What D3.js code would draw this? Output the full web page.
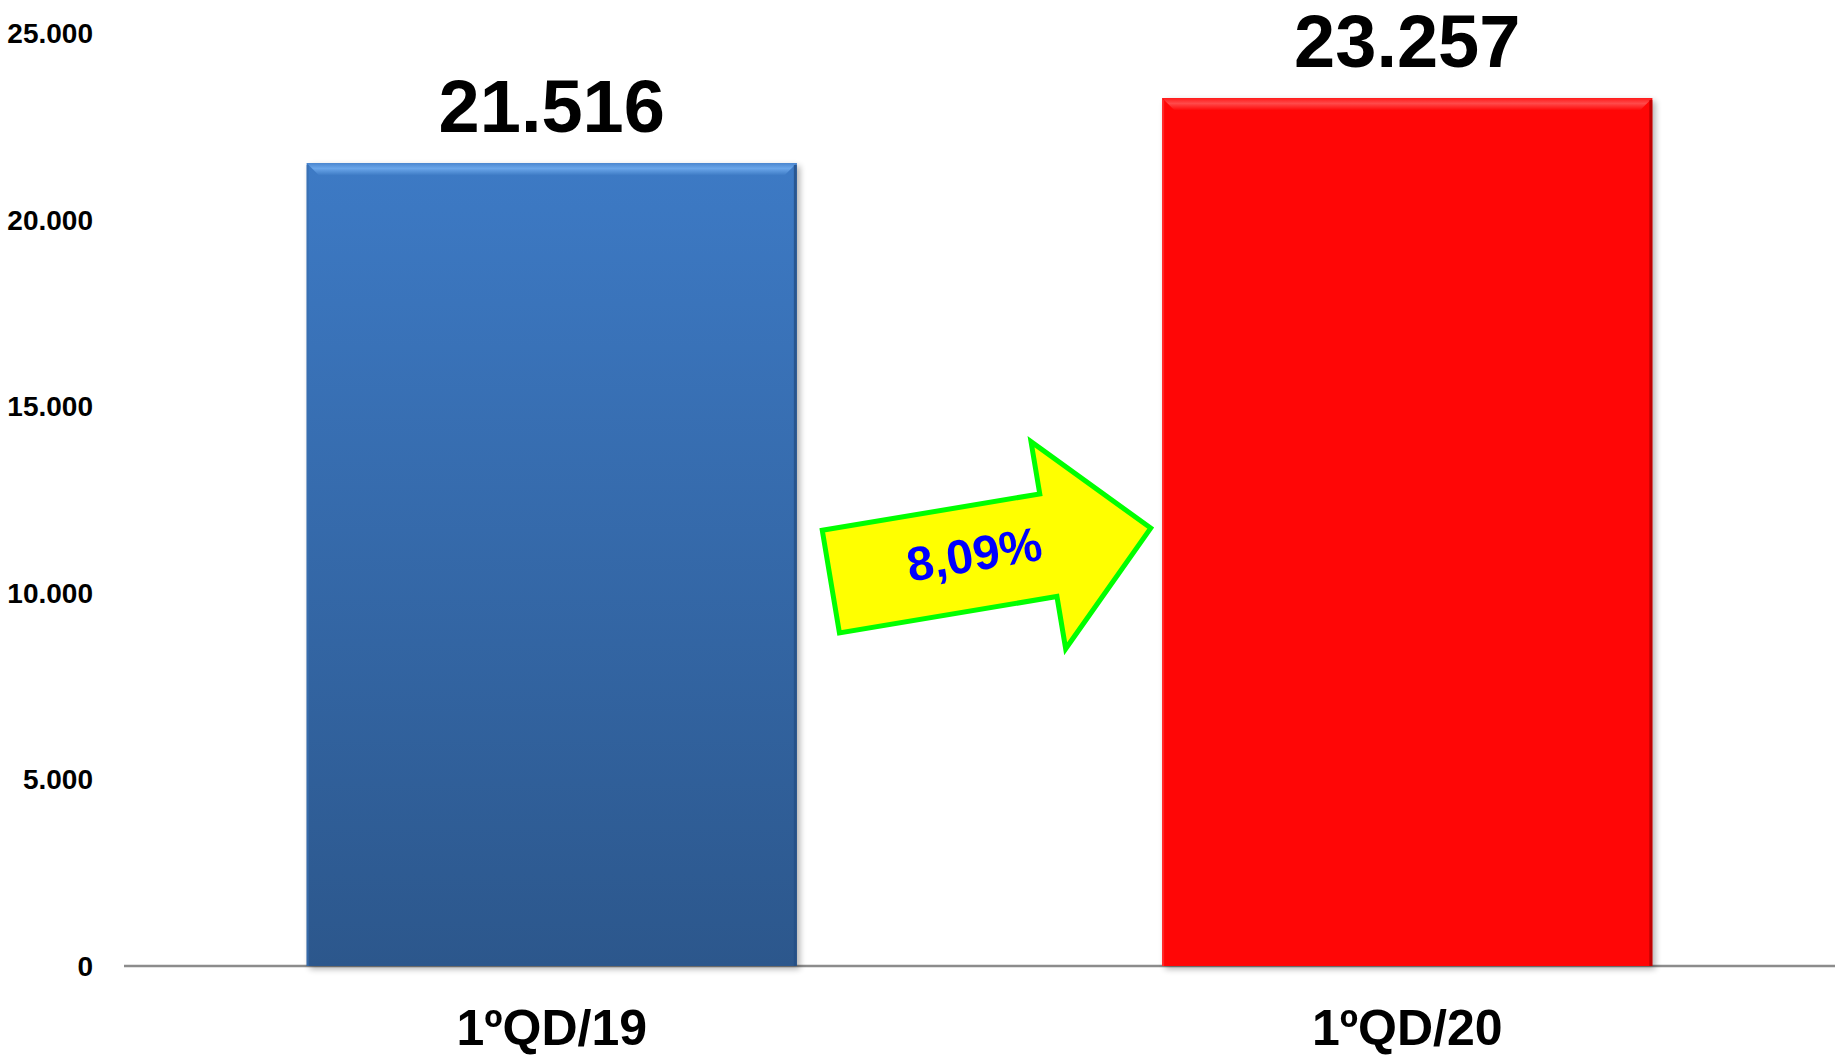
<!DOCTYPE html>
<html>
<head>
<meta charset="utf-8">
<script src="https://cdn.jsdelivr.net/npm/d3@7"></script>
<style>
  html, body { margin: 0; padding: 0; background: #ffffff; }
  svg { display: block; }
  text { font-family: "Liberation Sans", Arial, sans-serif; font-weight: bold; }
</style>
</head>
<body>
<svg id="chart" width="1841" height="1058"></svg>
<script>
// ---- data ----
const categories = ["1ºQD/19", "1ºQD/20"];
const values = [21516, 23257];
const barColors = ["blue", "red"];
const yTicks = [0, 5000, 10000, 15000, 20000, 25000];
const changeLabel = "8,09%";
const arrowAnchorValue = 10300;   // vertical level of the arrow (data units)

// ---- setup ----
const svg = d3.select("#chart");
const locale = d3.formatLocale({ decimal: ",", thousands: ".", grouping: [3], currency: ["", ""] });
const fmt = locale.format(",d");

const y = d3.scaleLinear().domain([0, 25000]).range([966, 33]);
const x = d3.scaleBand().domain(categories).range([124, 1835])
  .paddingInner(0.427).paddingOuter(0.2135);

const defs = svg.append("defs");
const blueGrad = defs.append("linearGradient").attr("id", "g-blue")
  .attr("x1", 0).attr("y1", 0).attr("x2", 0).attr("y2", 1);
blueGrad.append("stop").attr("offset", "0%").attr("stop-color", "#3d7ac5");
blueGrad.append("stop").attr("offset", "100%").attr("stop-color", "#2c578c");
const barFill = { blue: "url(#g-blue)", red: "#ff0606" };

const topGrad = {
  blue: [["0%", "#4a86cf"], ["45%", "#6aa6ea"], ["100%", "#3f7cc6"]],
  red: [["0%", "#ff1a1a"], ["45%", "#ff4a4a"], ["100%", "#ff0a0a"]]
};
Object.entries(topGrad).forEach(([k, stops]) => {
  const g = defs.append("linearGradient").attr("id", "t-" + k)
    .attr("x1", 0).attr("y1", 0).attr("x2", 0).attr("y2", 1);
  stops.forEach(s => g.append("stop").attr("offset", s[0]).attr("stop-color", s[1]));
});
defs.append("filter").attr("id", "blur")
  .attr("x", "-10%").attr("y", "-10%").attr("width", "120%").attr("height", "120%")
  .append("feGaussianBlur").attr("stdDeviation", 3);

// ---- y tick labels ----
svg.append("g").selectAll("text").data(yTicks).join("text")
  .attr("x", 93).attr("y", d => y(d)).attr("dy", "0.36em")
  .attr("text-anchor", "end").attr("font-size", 28).attr("fill", "#000")
  .text(d => fmt(d));

// ---- baseline axis ----
svg.append("line")
  .attr("x1", x.range()[0]).attr("x2", x.range()[1])
  .attr("y1", y(0)).attr("y2", y(0))
  .attr("stroke", "#8c8c8c").attr("stroke-width", 2.5);

// ---- bars ----
const bars = svg.append("g").selectAll("g").data(categories).join("g");
// soft shadow behind bar
bars.append("rect")
  .attr("x", d => x(d) + 3).attr("width", x.bandwidth())
  .attr("y", (d, i) => y(values[i]) + 3).attr("height", (d, i) => y(0) - y(values[i]))
  .attr("fill", "#000").attr("opacity", 0.3).attr("filter", "url(#blur)");
bars.append("rect")
  .attr("x", d => x(d)).attr("width", x.bandwidth())
  .attr("y", (d, i) => y(values[i])).attr("height", (d, i) => y(0) - y(values[i]))
  .attr("fill", (d, i) => barFill[barColors[i]]);
// top bevel
const bev = 12;
bars.append("path")
  .attr("d", (d, i) => {
    const x0 = x(d), x1 = x(d) + x.bandwidth(), t = y(values[i]);
    return `M${x0},${t}L${x1},${t}L${x1 - bev},${t + bev}L${x0 + bev},${t + bev}Z`;
  })
  .attr("fill", (d, i) => `url(#t-${barColors[i]})`);
// right dark edge
bars.append("rect")
  .attr("x", d => x(d) + x.bandwidth() - 3).attr("width", 3)
  .attr("y", (d, i) => y(values[i]) + 2).attr("height", (d, i) => y(0) - y(values[i]) - 2)
  .attr("fill", (d, i) => barColors[i] === "blue" ? "#244f85" : "#b00000")
  .attr("opacity", 0.8);
// left light edge
bars.append("rect")
  .attr("x", d => x(d)).attr("width", 2)
  .attr("y", (d, i) => y(values[i]) + 2).attr("height", (d, i) => y(0) - y(values[i]) - 2)
  .attr("fill", (d, i) => barColors[i] === "blue" ? "#3a6fb0" : "#ff3030")
  .attr("opacity", 0.8);

// ---- value labels ----
svg.append("g").selectAll("text").data(categories).join("text")
  .attr("x", d => x(d) + x.bandwidth() / 2)
  .attr("y", (d, i) => y(values[i]) - 31)
  .attr("text-anchor", "middle").attr("font-size", 74).attr("fill", "#000")
  .text((d, i) => fmt(values[i]));

// ---- category labels ----
svg.append("g").selectAll("text").data(categories).join("text")
  .attr("x", d => x(d) + x.bandwidth() / 2)
  .attr("y", 1045)
  .attr("text-anchor", "middle").attr("font-size", 50).attr("fill", "#000")
  .text(d => d);

// ---- change arrow ----
const x0End = x(categories[0]) + x.bandwidth();
const x1Start = x(categories[1]);
const arrowLen = x1Start - x0End - 41;       // tail -> tip length along shaft
const tailX = x0End + 34, tailY = y(arrowAnchorValue);
const ang = -9.5;
const shaftHalf = 52, headHalf = 105, headStart = arrowLen * 0.68;
const pts = [
  [0, -shaftHalf], [headStart, -shaftHalf], [headStart, -headHalf],
  [arrowLen, 0],
  [headStart, headHalf], [headStart, shaftHalf], [0, shaftHalf]
];
const ag = svg.append("g").attr("transform", `translate(${tailX},${tailY}) rotate(${ang})`);
ag.append("path")
  .attr("d", d3.line()(pts) + "Z")
  .attr("fill", "#ffff00").attr("stroke", "#00ff00").attr("stroke-width", 5)
  .attr("stroke-linejoin", "miter");
ag.append("text")
  .attr("x", arrowLen * 0.45).attr("y", -4).attr("dy", "0.36em")
  .attr("text-anchor", "middle").attr("font-size", 48).attr("fill", "#0000ff")
  .text(changeLabel);
</script>
</body>
</html>
